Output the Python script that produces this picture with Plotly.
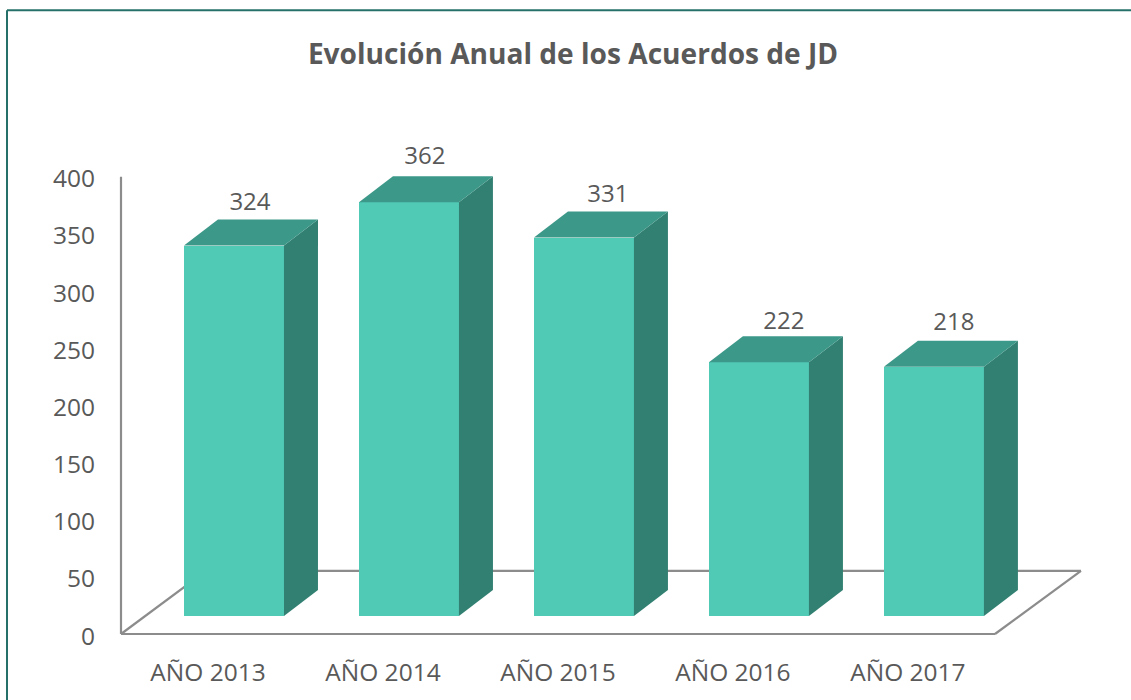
import plotly.graph_objects as go

TITLE = "Evolución Anual de los Acuerdos de JD"
categories = ["AÑO 2013", "AÑO 2014", "AÑO 2015", "AÑO 2016", "AÑO 2017"]
values = [324, 362, 331, 222, 218]
y_ticks = [0, 50, 100, 150, 200, 250, 300, 350, 400]

FONT = "Open Sans"
TEXT = "#595959"
FRONT, TOP, SIDE = "#50C9B5", "#3C9888", "#328072"
FLOOR_COL, BORDER = "#8C8C8C", "#26706A"

W, H = 1131, 700
L, R, B = 121, 1081, 634
Y_TOP_PX = 177               # pixel of the value 400
X0, X1 = -0.497, 4.989
Y0, Y_AXIS_MAX, Y1 = 0, 400, 440   # range runs past 400 so the 362 label stays drawn

px_x = (X1 - X0) / (R - L)   # data units per pixel
px_y = (Y_AXIS_MAX - Y0) / (B - Y_TOP_PX)
T = B - (Y1 - Y0) / px_y

bar_shift = 26 * px_x        # bars sit right of the tick position
bar_w = 100 * px_x
base = 18 * px_y             # bars stand on the floor, above the 0 line
dx, dy = 34 * px_x, 26 * px_y

# small hand placement of the value labels, in pixels
label_nudge_x = [-1, -1, 7, 8, 3]
label_nudge_y = [4, 6, 4, 1, 5]

idx = list(range(len(categories)))
fig = go.Figure()

fig.add_bar(x=[i + bar_shift for i in idx], y=values, base=base, width=bar_w,
            marker=dict(color=FRONT, line=dict(width=0)),
            hoverinfo="skip", showlegend=False)

for i, v in zip(idx, values):
    xl = i + bar_shift - bar_w / 2
    xr = i + bar_shift + bar_w / 2
    top = base + v
    fig.add_scatter(x=[xr, xr + dx, xr + dx, xr, xr], y=[base, base + dy, top + dy, top, base],
                    mode="lines", fill="toself", fillcolor=SIDE, line=dict(width=0),
                    hoverinfo="skip", showlegend=False)
    fig.add_scatter(x=[xl, xr, xr + dx, xl + dx, xl], y=[top, top, top + dy, top + dy, top],
                    mode="lines", fill="toself", fillcolor=TOP, line=dict(width=0),
                    hoverinfo="skip", showlegend=False)

fig.add_scatter(x=[i + bar_shift + dx / 2 + n * px_x for i, n in zip(idx, label_nudge_x)],
                y=[base + v + dy + n * px_y for v, n in zip(values, label_nudge_y)],
                text=[str(v) for v in values], mode="text", textposition="top center",
                textfont=dict(family=FONT, size=24, color=TEXT),
                cliponaxis=False, hoverinfo="skip", showlegend=False)

def fx(p): return (p - L) / (R - L)
def fy(p): return (B - p) / (B - T)

# floor and value axis are in paper space so the plot-area clip does not thin them
floor_px = [((121, 634), (206, 571)), ((206, 571), (1081, 571)),
            ((1081, 571), (995, 634)), ((995, 634), (121, 634)),
            ((121, 634), (121, 177))]
shapes = [dict(type="line", xref="paper", yref="paper",
               x0=fx(a[0]), y0=fy(a[1]), x1=fx(b[0]), y1=fy(b[1]),
               layer="below", line=dict(color=FLOOR_COL, width=2.2)) for a, b in floor_px]

# outer chart border (left and top only reach the picture's edges)
shapes += [
    dict(type="line", xref="paper", yref="paper", x0=fx(7), x1=fx(7), y0=fy(10.5), y1=fy(H),
         line=dict(color=BORDER, width=2)),
    dict(type="line", xref="paper", yref="paper", x0=fx(7), x1=fx(W), y0=fy(10.5), y1=fy(10.5),
         line=dict(color=BORDER, width=2)),
]

fig.update_layout(
    width=W, height=H, autosize=False,
    margin=dict(l=L, r=W - R, t=T, b=H - B, pad=0),
    paper_bgcolor="white", plot_bgcolor="white",
    title=dict(text=f"<b>{TITLE}</b>", x=573 / W, xanchor="center", xref="container",
               y=1 - 54 / H, yanchor="middle",
               font=dict(family=FONT, size=28.1, color=TEXT)),
    shapes=shapes,
    bargap=0,
    xaxis=dict(range=[X0, X1], tickmode="array", tickvals=idx, ticktext=categories,
               showgrid=False, zeroline=False, showline=False,
               ticks="outside", ticklen=17, tickcolor="rgba(0,0,0,0)",
               tickfont=dict(family=FONT, size=24.5, color=TEXT)),
    yaxis=dict(range=[Y0, Y1], tickmode="array", tickvals=y_ticks,
               showgrid=False, zeroline=False, showline=False,
               ticks="outside", ticklen=20, tickcolor="rgba(0,0,0,0)", ticklabelshift=2,
               tickfont=dict(family=FONT, size=24.5, color=TEXT)),
)

fig.write_html("out.html", config=dict(displayModeBar=False),
               post_script="document.body.style.margin='0';document.body.style.overflow='hidden';")
